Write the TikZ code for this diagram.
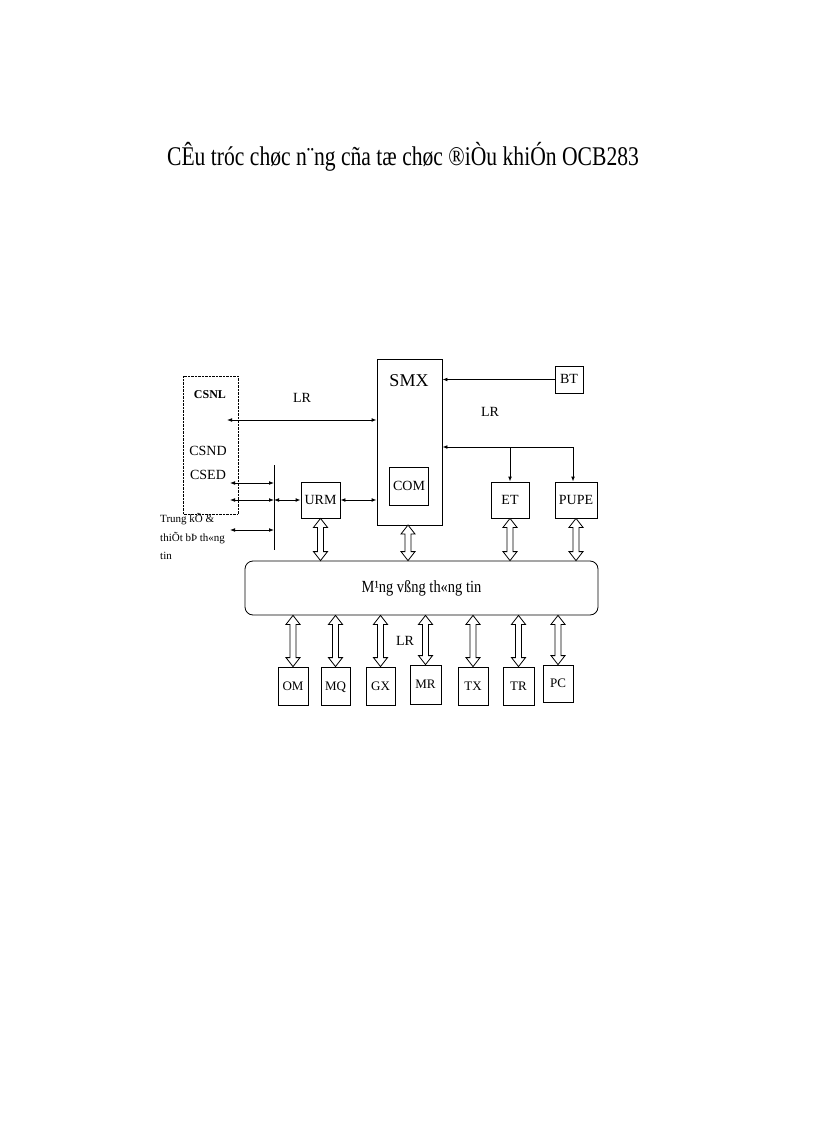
\documentclass[tikz,border=0pt]{standalone}
\usepackage{fontspec}
\setmainfont{Liberation Serif}
\usetikzlibrary{arrows.meta,calc}
\newcommand\fatv[2]{\draw[thick,fill=white] let \p1=(#1), \p2=(#2) in
  (\x1,\y1) -- (\x1+7pt,\y1-9pt) -- (\x1+3pt,\y1-9pt) -- (\x1+3pt,\y2+9pt) -- (\x1+7pt,\y2+9pt) -- (\x1,\y2)
  -- (\x1-7pt,\y2+9pt) -- (\x1-3pt,\y2+9pt) -- (\x1-3pt,\y1-9pt) -- (\x1-7pt,\y1-9pt) -- cycle;}
\begin{document}
\begin{tikzpicture}[x=1pt,y=-1pt,
  box/.style={draw,thick,minimum width=0pt},
  lab/.style={font=\fontsize{14}{14}\selectfont,text height=9pt,text depth=1pt},
  thin/.style={thick,{Latex[length=5pt]}-{Latex[length=5pt]}},
  onearr/.style={thick,-{Latex[length=5pt]}}]
\useasboundingbox (0,0) rectangle (816,1123);
\node[font=\fontsize{27}{27}\selectfont] (title) at (403,157) {\scalebox{0.8}[1]{CÊu tróc chøc n¨ng cña tæ chøc ®iÒu khiÓn OCB283}};
% CSNL dotted
\draw[densely dotted] (183,376) rectangle (238,514);
\node[font=\bfseries\fontsize{12}{12}\selectfont] (csnl) at (210,395) {CSNL};
\node[lab] (csnd) at (208,451) {CSND};
\node[lab] (csed) at (208,475) {CSED};
\node[font=\fontsize{11}{11}\selectfont,align=left,anchor=north west,inner sep=0pt] (trung) at (160,513) {Trung kÕ \&\\[7pt]thiÕt bÞ th«ng\\[7pt]tin};
% SMX
\node[box,minimum width=65pt,minimum height=166pt] (smx) at (409.5,442) {};
\node[font=\fontsize{18}{18}\selectfont] (smxt) at (409,381) {SMX};
\node[box,minimum width=38pt,minimum height=38pt,lab] (com) at (409,486) {COM};
\node[box,minimum width=28pt,minimum height=27pt,lab] (bt) at (569,379.5) {BT};
\node[box,minimum width=39pt,minimum height=36pt,lab] (urm) at (320.5,500) {URM};
\node[box,minimum width=38pt,minimum height=36pt,lab] (et) at (510,500) {ET};
\node[box,minimum width=42pt,minimum height=36pt,lab] (pupe) at (576,500) {PUPE};
\node[lab] (lr1) at (302,398) {LR};
\node[lab] (lr2) at (490,412) {LR};
\node[lab] (lr3) at (405,641) {LR};
% connections
\coordinate (csl) at (227,420);
\draw[thin] (csl) -- (smx.west |- csl);
\draw[onearr] (bt.west) -- (smx.east |- bt.west);
\coordinate (j1) at (510,447);
\coordinate (j2) at (573,447);
\draw[onearr] (j2) -- (smx.east |- j2);
\draw[onearr] (j1) -- (et.north);
\draw[onearr] (j2) -- (pupe.north -| j2);
\coordinate (vt) at (274,465);
\coordinate (vb) at (274,550);
\draw[thick] (vt) -- (vb);
\coordinate (a1) at (230,483); \coordinate (a2) at (230,500); \coordinate (a3) at (230,530);
\draw[thin] (a1) -- (a1 -| vt);
\draw[thin] (a2) -- (a2 -| vt);
\draw[thin] (a3) -- (a3 -| vt);
\draw[thin] (a2 -| vt) -- (urm.west);
\draw[thin] (urm.east) -- (smx.west |- urm.east);
% network
\node[draw,thick,rounded corners=8pt,minimum width=353pt,minimum height=54pt,font=\fontsize{17}{17}\selectfont] (net) at (421.5,588) {\scalebox{0.85}[1]{M¹ng vßng th«ng tin}};
\fatv{urm.south}{urm.south |- net.north}
\coordinate (smxb) at (408,525);
\fatv{smxb}{smxb |- net.north}
\fatv{et.south}{et.south |- net.north}
\fatv{pupe.south}{pupe.south |- net.north}
% bottom
\foreach \nm/\t/\xl/\xr/\ya/\yb in {om/OM/278/308/667/705, mq/MQ/321/350/667/705, gx/GX/366/395/667/705, mr/MR/410/441/665/704, tx/TX/458/488/667/705, tr/TR/503/534/667/705, pc/PC/543/573/665/702}{
  \node[box,lab,font=\fontsize{13}{13}\selectfont,minimum width=\xr pt-\xl pt,minimum height=\yb pt-\ya pt] (\nm) at ({(\xl+\xr)/2},{(\ya+\yb)/2}) {\t};
  \fatv{\nm.north |- net.south}{\nm.north}
}
\end{tikzpicture}
\end{document}
